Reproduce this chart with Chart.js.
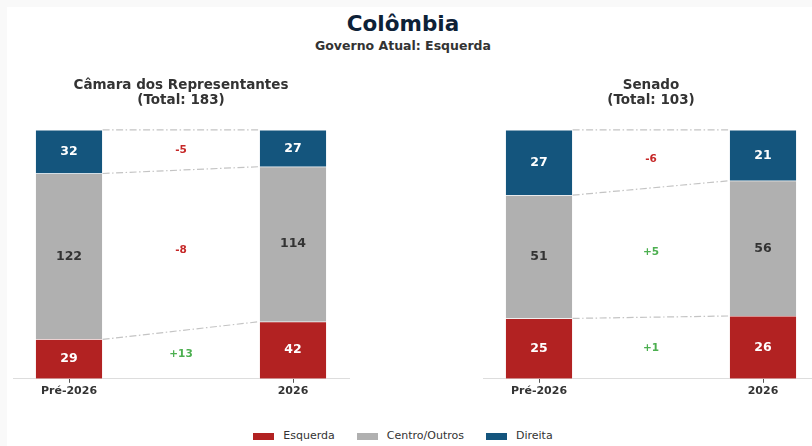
<!DOCTYPE html>
<html lang="pt-BR">
<head>
<meta charset="utf-8">
<title>Colômbia</title>
<script src="https://cdn.jsdelivr.net/npm/chart.js@4.4.1/dist/chart.umd.min.js"></script>
<style>
  html, body {
    margin: 0;
    padding: 0;
    width: 812px;
    height: 446px;
    overflow: hidden;
    background: #f9f9f9;
    font-family: 'DejaVu Sans', sans-serif;
  }
  #painel {
    position: absolute;
    left: 7px;
    top: 7px;
    width: 805px;
    height: 439px;
    background: #fff;
  }
  #titulo {
    position: absolute;
    left: 0;
    width: 806px;
    top: 11px;
    margin: 0;
    text-align: center;
    font-size: 21.5px;
    line-height: 26px;
    font-weight: bold;
    color: #0d2137;
  }
  #subtitulo {
    position: absolute;
    left: 0;
    width: 806px;
    top: 38px;
    margin: 0;
    text-align: center;
    font-size: 12.5px;
    line-height: 16px;
    font-weight: bold;
    color: #333;
  }
  .grafico {
    position: absolute;
    top: 72px;
  }
  #legenda {
    position: absolute;
    left: 0;
    width: 806px;
    top: 428px;
    display: flex;
    justify-content: center;
    gap: 22px;
    font-size: 11px;
    line-height: 16px;
    color: #333;
  }
  #legenda span.item { display: flex; align-items: center; }
  #legenda i { display: inline-block; width: 21px; height: 7px; margin-right: 9px; }
</style>
</head>
<body>
<div id="painel"></div>
<h1 id="titulo">Colômbia</h1>
<div id="subtitulo">Governo Atual: Esquerda</div>
<canvas id="camara" class="grafico" width="362" height="328" style="left:0px"></canvas>
<canvas id="senado" class="grafico" width="362" height="328" style="left:470px"></canvas>
<div id="legenda"></div>

<script>
// Períodos e blocos políticos
const periodos = ['Pré-2026', '2026'];
const blocos = ['Esquerda', 'Centro/Outros', 'Direita'];
const coresBlocos = ['#b22222', '#b0b0b0', '#14557d'];
const coresValor = ['#ffffff', '#333333', '#ffffff'];

// Câmara dos Representantes (assentos por período)
const camaraEsquerda = [29, 42];
const camaraCentro = [122, 114];
const camaraDireita = [32, 27];

// Senado (assentos por período)
const senadoEsquerda = [25, 26];
const senadoCentro = [51, 56];
const senadoDireita = [27, 21];

const FONTE = "'DejaVu Sans', sans-serif";

// Rótulos de valor, linhas de ligação e variação entre períodos
const rotulosPlugin = {
  id: 'rotulos',
  afterDatasetsDraw(chart) {
    const { ctx } = chart;
    const metas = chart.data.datasets.map((_, i) => chart.getDatasetMeta(i));

    ctx.save();
    ctx.strokeStyle = '#c4c4c4';
    ctx.lineWidth = 1.2;
    ctx.setLineDash([7, 2.5, 1.5, 2.5]);
    metas.forEach(meta => {
      const [a, b] = meta.data;
      ctx.beginPath();
      ctx.moveTo(a.x + a.width / 2, a.y);
      ctx.lineTo(b.x - b.width / 2, b.y);
      ctx.stroke();
    });
    ctx.setLineDash([]);

    ctx.textAlign = 'center';
    ctx.textBaseline = 'middle';
    metas.forEach((meta, i) => {
      const valores = chart.data.datasets[i].data.map(d => d.y);
      ctx.font = `bold 12.5px ${FONTE}`;
      ctx.fillStyle = coresValor[i];
      meta.data.forEach((el, j) => {
        ctx.fillText(String(valores[j]), el.x, (el.y + el.base) / 2);
      });

      const [a, b] = meta.data;
      const diff = valores[1] - valores[0];
      ctx.font = `bold 10.5px ${FONTE}`;
      ctx.fillStyle = diff >= 0 ? '#4caf50' : '#c62828';
      const meioA = (a.y + a.base) / 2;
      const meioB = (b.y + b.base) / 2;
      ctx.fillText((diff > 0 ? '+' : '') + diff, (a.x + b.x) / 2, (meioA + meioB) / 2);
    });
    ctx.restore();
  },
};

function criarGrafico(canvasId, nome, series) {
  const total = series.reduce((s, serie) => s + serie[0], 0);
  const ctx = document.getElementById(canvasId).getContext('2d');

  return new Chart(ctx, {
    type: 'bar',
    data: {
      datasets: series.map((serie, i) => ({
        label: blocos[i],
        data: serie.map((v, j) => ({ x: j, y: v })),
        backgroundColor: coresBlocos[i],
        borderColor: '#ffffff',
        borderWidth: 0.5,
        categoryPercentage: 1,
        barPercentage: 0.3,
      })),
    },
    options: {
      responsive: false,
      animation: false,
      layout: { padding: { left: 13, right: 13, top: 0, bottom: 0 } },
      scales: {
        x: {
          type: 'linear',
          stacked: true,
          min: -0.25,
          max: 1.25,
          offset: false,
          afterBuildTicks: scale => {
            scale.ticks = periodos.map((_, i) => ({ value: i }));
          },
          grid: {
            offset: false,
            drawOnChartArea: false,
            drawTicks: true,
            tickLength: 4,
            tickColor: '#555',
          },
          border: { display: true, color: '#dddddd', width: 1 },
          ticks: {
            padding: 2,
            color: '#333',
            font: { family: FONTE, size: 11, weight: 'bold' },
            callback: value => periodos[value] ?? '',
          },
        },
        y: {
          display: false,
          stacked: true,
          min: 0,
          max: total,
        },
      },
      plugins: {
        legend: { display: false },
        tooltip: { enabled: false },
        title: {
          display: true,
          text: [nome, `(Total: ${total})`],
          color: '#333',
          font: { family: FONTE, size: 13.5, weight: 'bold', lineHeight: 1.11 },
          padding: { top: 6.5, bottom: 21.5 },
        },
      },
    },
    plugins: [rotulosPlugin],
  });
}

criarGrafico('camara', 'Câmara dos Representantes', [camaraEsquerda, camaraCentro, camaraDireita]);
criarGrafico('senado', 'Senado', [senadoEsquerda, senadoCentro, senadoDireita]);

// Legenda comum aos dois gráficos
const legenda = document.getElementById('legenda');
blocos.forEach((nome, i) => {
  const item = document.createElement('span');
  item.className = 'item';
  item.innerHTML = `<i style="background:${coresBlocos[i]}"></i>${nome}`;
  legenda.appendChild(item);
});
</script>
</body>
</html>
